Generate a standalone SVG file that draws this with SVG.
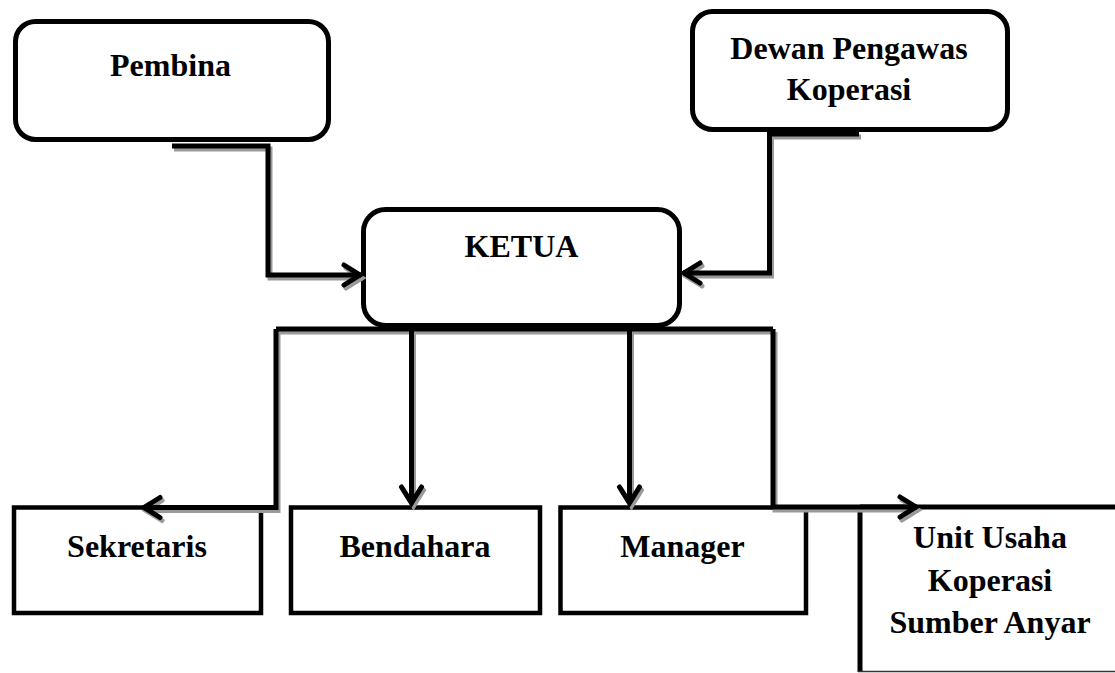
<svg xmlns="http://www.w3.org/2000/svg" width="1115" height="673" viewBox="0 0 1115 673">
  <style>
    .box { fill: #ffffff; stroke: #000000; stroke-width: 5; }
    .rbox { fill: #ffffff; stroke: #000000; stroke-width: 4.5; }
    .lbl { font-family: "Liberation Serif", "Times New Roman", serif; font-weight: bold; font-size: 32px; fill: #000000; text-anchor: middle; }
    .wire { fill: none; stroke: #000000; stroke-width: 5; stroke-linejoin: miter; }
    .shadow { fill: none; stroke: #9a9a9a; stroke-width: 5; stroke-linejoin: miter; }
  </style>
  <defs>
    <marker id="arr" markerUnits="userSpaceOnUse" markerWidth="40" markerHeight="40" viewBox="-30 -20 40 40" refX="0" refY="0" orient="auto" overflow="visible">
      <path d="M-17,-10 L-1,0 L-17,10" fill="none" stroke="#000000" stroke-width="5" stroke-linecap="round" stroke-linejoin="miter"/>
    </marker>
    <marker id="arrS" markerUnits="userSpaceOnUse" markerWidth="40" markerHeight="40" viewBox="-30 -20 40 40" refX="0" refY="0" orient="auto" overflow="visible">
      <path d="M-17,-10 L-1,0 L-17,10" fill="none" stroke="#9a9a9a" stroke-width="5" stroke-linecap="round" stroke-linejoin="miter"/>
    </marker>
  </defs>
  <rect width="1115" height="673" fill="#ffffff"/>

  <g id="pembina">
    <rect class="box" x="15.5" y="21.5" width="313" height="118" rx="20" ry="20"/>
    <text class="lbl" x="170.5" y="76">Pembina</text>
  </g>

  <g id="dewan">
    <rect class="box" x="692.5" y="11.5" width="315" height="118" rx="20" ry="20"/>
    <text class="lbl" x="849" y="59">Dewan Pengawas</text>
    <text class="lbl" x="849" y="100">Koperasi</text>
  </g>

  <g id="ketua">
    <rect class="box" x="363.5" y="209.5" width="316" height="116" rx="22" ry="22"/>
    <text class="lbl" x="521.5" y="257">KETUA</text>
  </g>

  <g id="sekretaris">
    <rect class="rbox" x="14" y="507.5" width="247" height="105.5"/>
    <text class="lbl" x="137" y="557">Sekretaris</text>
  </g>

  <g id="bendahara">
    <rect class="rbox" x="291" y="507.5" width="249" height="105.5"/>
    <text class="lbl" x="415" y="557">Bendahara</text>
  </g>

  <g id="manager">
    <rect class="rbox" x="560.5" y="507.5" width="245.5" height="105.5"/>
    <text class="lbl" x="682.5" y="557">Manager</text>
  </g>

  <g id="unit">
    <line x1="860" y1="507" x2="1115" y2="507" stroke="#000000" stroke-width="5"/>
    <line x1="860" y1="505" x2="860" y2="672" stroke="#000000" stroke-width="5"/>
    <line x1="858" y1="671.5" x2="1115" y2="671.5" stroke="#333333" stroke-width="1.5"/>
    <text class="lbl" x="990" y="548">Unit Usaha</text>
    <text class="lbl" x="990" y="591">Koperasi</text>
    <text class="lbl" x="990" y="633">Sumber Anyar</text>
  </g>

  <g id="connectors">
    <g id="shadows" transform="translate(2,3)">
      <path class="shadow" d="M172,146 H268 V275 H361" marker-end="url(#arrS)"/>
      <path class="shadow" d="M859,134 H769.5 V273 H683" marker-end="url(#arrS)"/>
      <path class="shadow" d="M276,329 H773"/>
      <path class="shadow" d="M276,329 V507.5 H143" marker-end="url(#arrS)"/>
      <path class="shadow" d="M411.5,326 V504" marker-end="url(#arrS)"/>
      <path class="shadow" d="M629.5,326 V504" marker-end="url(#arrS)"/>
      <path class="shadow" d="M773,329 V507 H917" marker-end="url(#arrS)"/>
    </g>
    <path id="c-pembina-ketua" class="wire" d="M172,146 H268 V275 H361" marker-end="url(#arr)"/>
    <path id="c-dewan-ketua" class="wire" d="M859,134 H769.5 V273 H683" marker-end="url(#arr)"/>
    <path id="c-spine" class="wire" d="M276,329 H773"/>
    <path id="c-ketua-sekretaris" class="wire" d="M276,329 V507.5 H143" marker-end="url(#arr)"/>
    <path id="c-ketua-bendahara" class="wire" d="M411.5,326 V504" marker-end="url(#arr)"/>
    <path id="c-ketua-manager" class="wire" d="M629.5,326 V504" marker-end="url(#arr)"/>
    <path id="c-ketua-unit" class="wire" d="M773,329 V507 H917" marker-end="url(#arr)"/>
  </g>
</svg>
